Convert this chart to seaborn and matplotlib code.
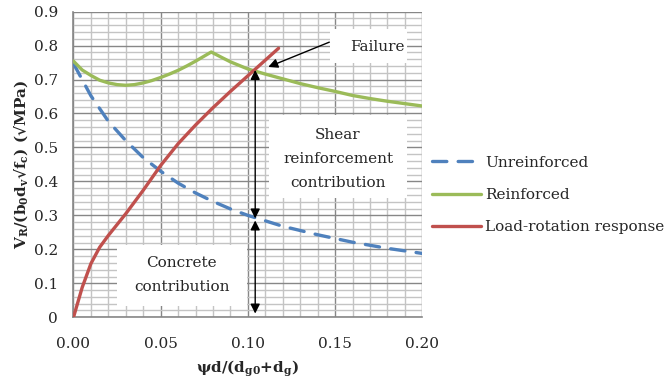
import matplotlib
matplotlib.use("Agg")
import matplotlib.pyplot as plt
import seaborn as sns
import numpy as np
import pandas as pd
from matplotlib.patches import Rectangle
from matplotlib.ticker import MultipleLocator

# ---- data ----
x_unreinforced = [0.0, 0.01, 0.02, 0.03, 0.04, 0.05, 0.06, 0.07, 0.08, 0.09, 0.10,
                  0.12, 0.14, 0.16, 0.18, 0.20]
y_unreinforced = [0.747, 0.652, 0.577, 0.520, 0.470, 0.430, 0.395, 0.366, 0.341, 0.319, 0.300,
                  0.268, 0.243, 0.221, 0.203, 0.188]

x_reinforced = [0.0, 0.005, 0.01, 0.015, 0.02, 0.025, 0.03, 0.035, 0.04, 0.045, 0.05, 0.055,
                0.06, 0.065, 0.07, 0.075, 0.079, 0.085, 0.09, 0.10, 0.11, 0.12, 0.13,
                0.14, 0.15, 0.16, 0.17, 0.18, 0.19, 0.20]
y_reinforced = [0.754, 0.728, 0.712, 0.698, 0.690, 0.685, 0.683, 0.685, 0.690, 0.697, 0.706, 0.716,
                0.727, 0.740, 0.754, 0.769, 0.781, 0.765, 0.752, 0.731, 0.716, 0.702, 0.688,
                0.676, 0.665, 0.653, 0.644, 0.636, 0.629, 0.622]

x_response = [0.0, 0.005, 0.01, 0.015, 0.02, 0.03, 0.04, 0.05, 0.06, 0.07, 0.08, 0.09,
              0.10, 0.11, 0.1176]
y_response = [0.0, 0.088, 0.158, 0.206, 0.241, 0.305, 0.374, 0.447, 0.511, 0.566, 0.617, 0.665,
              0.711, 0.757, 0.792]

series_labels = ["Unreinforced", "Reinforced", "Load-rotation response"]
x_ticks = [0.00, 0.05, 0.10, 0.15, 0.20]
x_ticklabels = ["0.00", "0.05", "0.10", "0.15", "0.20"]
y_ticks = [0, 0.1, 0.2, 0.3, 0.4, 0.5, 0.6, 0.7, 0.8, 0.9]
y_ticklabels = ["0", "0.1", "0.2", "0.3", "0.4", "0.5", "0.6", "0.7", "0.8", "0.9"]

# annotation values
failure_point = (0.1117, 0.737)
failure_text_pos = (0.1467, 0.810)
arrow_x = 0.1042
shear_arrow = (0.728, 0.291)
concrete_arrow = (0.285, 0.011)

# ---- style ----
sns.set_style("white")
plt.rcParams["font.family"] = ["DejaVu Serif"]
plt.rcParams["mathtext.fontset"] = "dejavuserif"

BLUE = "#4F81BD"
GREEN = "#9BBB59"
RED = "#C0504D"
FS = 11

fig = plt.figure(figsize=(6.65, 3.86), dpi=100)
ax = fig.add_axes([0.1105, 0.178, 0.5245, 0.792])

df_u = pd.DataFrame({"x": x_unreinforced, "y": y_unreinforced})
df_r = pd.DataFrame({"x": x_reinforced, "y": y_reinforced})
df_l = pd.DataFrame({"x": x_response, "y": y_response})

sns.lineplot(data=df_u, x="x", y="y", ax=ax, color=BLUE, lw=2.4, label=series_labels[0], zorder=5)
ax.lines[-1].set_dashes((4.3, 3.4))
ax.lines[-1].set_dash_capstyle("round")
sns.lineplot(data=df_r, x="x", y="y", ax=ax, color=GREEN, lw=2.4, label=series_labels[1], zorder=5)
sns.lineplot(data=df_l, x="x", y="y", ax=ax, color=RED, lw=2.4, label=series_labels[2], zorder=6)

ax.set_xlim(0, 0.20)
ax.set_ylim(0, 0.9)
ax.set_xticks(x_ticks)
ax.set_xticklabels(x_ticklabels)
ax.set_yticks(y_ticks)
ax.set_yticklabels(y_ticklabels)
ax.xaxis.set_minor_locator(MultipleLocator(0.01))
ax.yaxis.set_minor_locator(MultipleLocator(0.02))
ax.grid(which="major", color="#878787", lw=1.0, zorder=0)
ax.grid(which="minor", color="#c4c4c4", lw=1.0, zorder=0)
ax.set_axisbelow(True)
for s in ["top", "right"]:
    ax.spines[s].set_visible(False)
for s in ["left", "bottom"]:
    ax.spines[s].set_color("#878787")
    ax.spines[s].set_linewidth(1.2)
ax.tick_params(which="major", direction="out", length=5, color="#878787", labelsize=FS)
ax.tick_params(axis="y", which="major", pad=6)
ax.tick_params(axis="x", which="major", pad=9)
ax.tick_params(which="minor", length=0)

ax.set_xlabel(r"ψd/(d$_\mathbf{g0}$+d$_\mathbf{g}$)", fontsize=11, fontweight="bold", labelpad=6)
ax.set_ylabel(r"V$_\mathbf{R}$/(b$_\mathbf{0}$d$_\mathbf{v}$√f$_\mathbf{c}$) (√MPa)",
              fontsize=11, fontweight="bold", labelpad=3)

# white text boxes
boxes = [(0.147, 0.750, 0.044, 0.100), (0.112, 0.350, 0.0795, 0.245), (0.0252, 0.034, 0.0743, 0.180)]
for (bx, by, bw, bh) in boxes:
    ax.add_patch(Rectangle((bx, by), bw, bh, facecolor="white", edgecolor="none", zorder=2))

ax.text(0.1745, 0.797, "Failure", ha="center", va="center", fontsize=FS, zorder=7)
ax.text(0.1517, 0.538, "Shear", ha="center", va="center", fontsize=FS, zorder=7)
ax.text(0.1517, 0.466, "reinforcement", ha="center", va="center", fontsize=FS, zorder=7)
ax.text(0.1517, 0.394, "contribution", ha="center", va="center", fontsize=FS, zorder=7)
ax.text(0.062, 0.159, "Concrete", ha="center", va="center", fontsize=FS, zorder=7)
ax.text(0.062, 0.088, "contribution", ha="center", va="center", fontsize=FS, zorder=7)

ax.annotate("", xy=failure_point, xytext=failure_text_pos,
            arrowprops=dict(arrowstyle="-|>", color="black", lw=1.0, mutation_scale=14,
                            shrinkA=0, shrinkB=0), zorder=8)
ax.annotate("", xy=(arrow_x, shear_arrow[0]), xytext=(arrow_x, shear_arrow[1]),
            arrowprops=dict(arrowstyle="<|-|>", color="black", lw=1.0, mutation_scale=14,
                            shrinkA=0, shrinkB=0), zorder=8)
ax.annotate("", xy=(arrow_x, concrete_arrow[0]), xytext=(arrow_x, concrete_arrow[1]),
            arrowprops=dict(arrowstyle="<|-|>", color="black", lw=1.0, mutation_scale=14,
                            shrinkA=0, shrinkB=0), zorder=8)

leg = ax.legend(loc="center left", bbox_to_anchor=(1.01, 0.40), frameon=False, fontsize=FS,
                handlelength=3.2, handletextpad=0.3, labelspacing=1.2, borderaxespad=0)

fig.savefig("out.png", dpi=100)
